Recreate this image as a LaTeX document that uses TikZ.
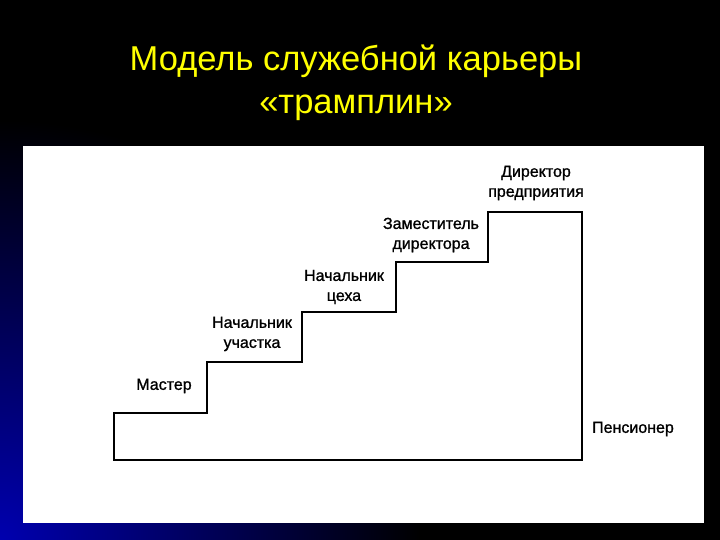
\documentclass[tikz,border=0pt]{standalone}
\usepackage{fontspec}
\setmainfont{Liberation Sans}
\newfontfamily\lblfont[FakeBold=1.1]{Liberation Sans}
\begin{document}
\begin{tikzpicture}[x=1pt,y=-1pt,
  lbl/.style={font=\lblfont\fontsize{16}{20}\selectfont, align=center, inner sep=0pt, text=black},
  ttl/.style={font=\fontsize{34.5}{43}\selectfont, align=center, inner sep=0pt, text={rgb,255:red,255;green,255;blue,0}},
  stair/.style={draw=black, line width=1.8pt, line join=miter}]
\useasboundingbox (0,0) rectangle (720,540);
\fill[black] (0,0) rectangle (720,540);
\begin{scope}
  \clip (0,0) rectangle (720,540);
  \shade[inner color={rgb,255:red,0;green,0;blue,175}, outer color=black] (0,540) circle (420);
\end{scope}
\fill[white] (23,146) rectangle (704,523);
\node[ttl] (title) at (356,83) {Модель служебной карьеры\\«трамплин»};
\draw[stair] (114,460) -- (114,413) -- (207,413) -- (207,362) -- (302,362) -- (302,312)
  -- (396,312) -- (396,262) -- (488,262) -- (488,212) -- (582,212) -- (582,460) -- cycle;
\node[lbl] (master) at (164,386) {Мастер};
\node[lbl] (uch) at (252,334) {Начальник\\участка};
\node[lbl] (ceh) at (344,287) {Начальник\\цеха};
\node[lbl] (zam) at (431,235) {Заместитель\\директора};
\node[lbl] (dir) at (536,183) {Директор\\предприятия};
\node[lbl] (pens) at (633,429) {Пенсионер};
\end{tikzpicture}
\end{document}
